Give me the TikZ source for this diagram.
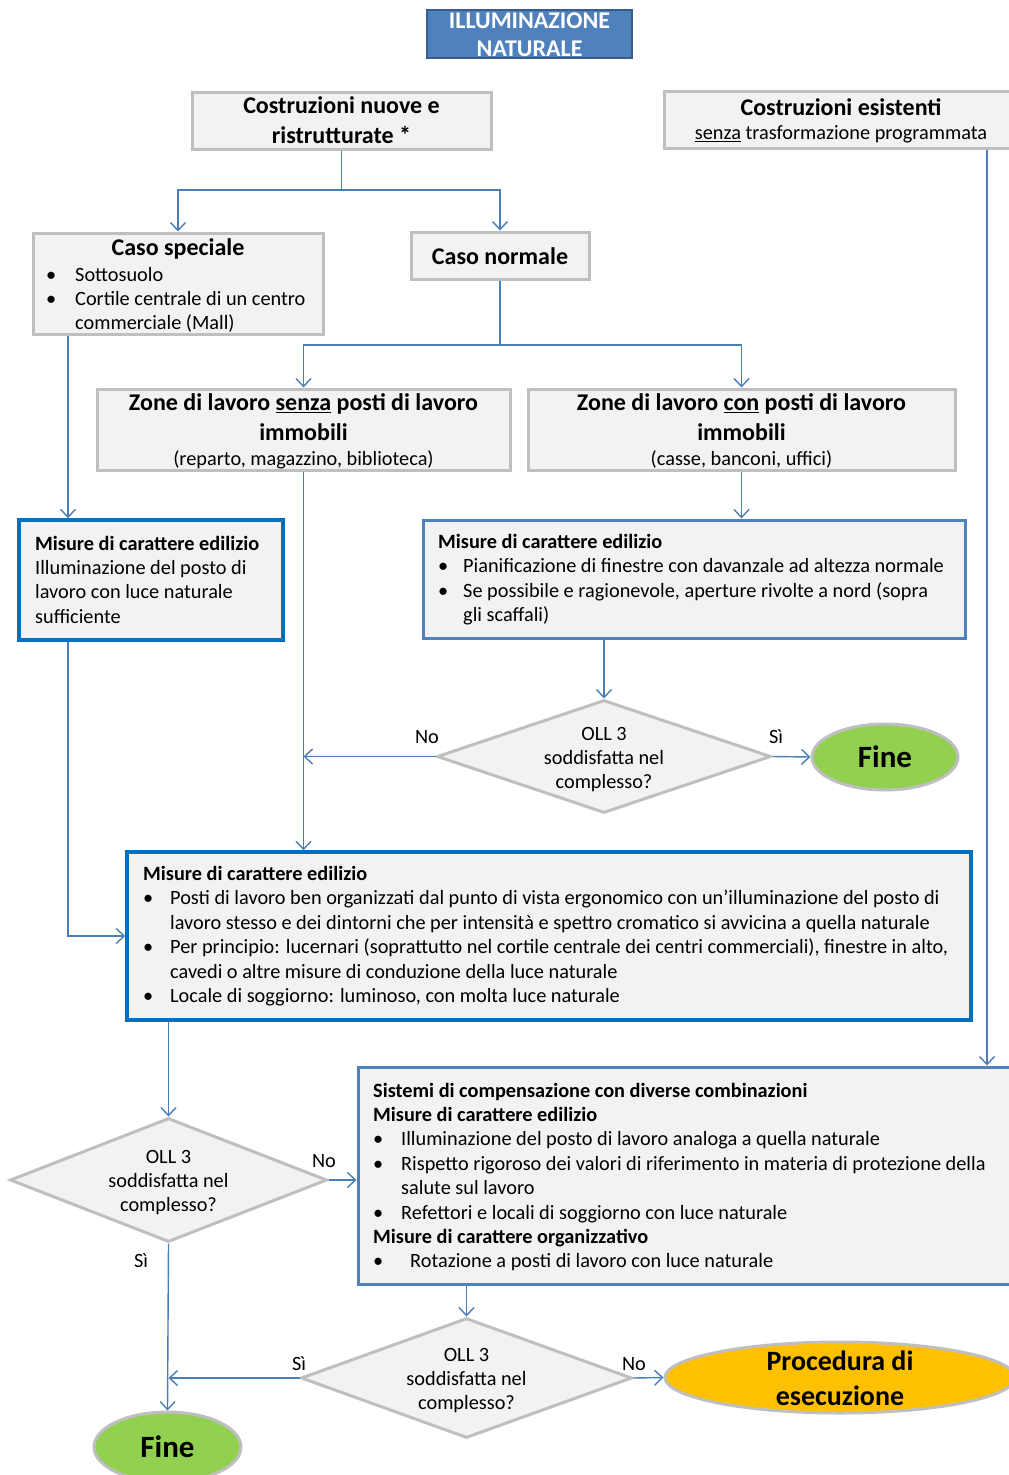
\documentclass[tikz,border=0pt]{standalone}
\usepackage{fontspec}
\setmainfont{Carlito}
\usetikzlibrary{shapes.geometric,arrows.meta}
\definecolor{boxfill}{HTML}{F2F2F2}
\definecolor{boxgray}{HTML}{BFBFBF}
\definecolor{offblue}{HTML}{4F81BD}
\definecolor{strongblue}{HTML}{0070C0}
\definecolor{connblue}{HTML}{4A7EBB}
\definecolor{titleborder}{HTML}{385D8A}
\definecolor{finegreen}{HTML}{92D050}
\definecolor{procorange}{HTML}{FFC000}
\newcommand\hdfont{\fontsize{24}{29.5}\selectfont\bfseries}
\newcommand\bdfont{\fontsize{20.3}{24.4}\selectfont}
\newcommand\bul[1]{\makebox[#1][l]{\textbullet}}
\newcommand\ind[1]{\makebox[#1]{}}
\begin{document}
\begin{tikzpicture}[x=1pt,y=-1pt,
  graybox/.style={rectangle,draw=boxgray,line width=3pt,fill=boxfill,inner sep=0},
  bluebox/.style={rectangle,draw=offblue,line width=3pt,fill=boxfill,inner sep=0},
  strongbox/.style={rectangle,draw=strongblue,line width=3.5pt,fill=boxfill,inner sep=0},
  titlebox/.style={rectangle,draw=titleborder,line width=2.5pt,fill=offblue,inner sep=0},
  decision/.style={diamond,draw=boxgray,line width=3pt,fill=boxfill,inner sep=0},
  endgreen/.style={ellipse,draw=boxgray,line width=3pt,fill=finegreen,inner sep=0,font=\fontsize{31}{37}\selectfont\bfseries},
  endorange/.style={ellipse,draw=boxgray,line width=3pt,fill=procorange,inner sep=0},
  conn/.style={draw=connblue,line width=1.4pt,-{Straight Barb[length=8pt,width=15pt]}},
  connline/.style={draw=connblue,line width=1.4pt},
  hd/.style={inner sep=0,anchor=base,font=\hdfont},
  bd/.style={inner sep=0,anchor=base,font=\bdfont},
  blk/.style={inner sep=0,anchor=base west,align=left,font=\bdfont},
]
\useasboundingbox (0,0) rectangle (1009,1475);

% boxes
\node[titlebox,minimum width=205pt,minimum height=48pt] (T) at (529.5,34) {};
\node[graybox,minimum width=299pt,minimum height=57pt] (A) at (341.5,120.5) {};
\node[graybox,minimum width=366pt,minimum height=57pt] (B) at (847,119.5) {};
\node[graybox,minimum width=290pt,minimum height=101pt] (C) at (178,283.5) {};
\node[graybox,minimum width=178pt,minimum height=47pt] (D) at (500,255.5) {};
\node[graybox,minimum width=413pt,minimum height=81pt] (E) at (303.5,429.5) {};
\node[graybox,minimum width=427pt,minimum height=81pt] (F) at (741.5,429.5) {};
\node[strongbox,minimum width=264pt,minimum height=120pt] (G) at (151,580) {};
\node[bluebox,minimum width=542pt,minimum height=118pt] (H) at (694,579) {};
\node[decision,minimum width=334pt,minimum height=113pt] (d1) at (604,756.5) {};
\node[endgreen,minimum width=146pt,minimum height=66pt] (fine1) at (885,757) {Fine};
\node[strongbox,minimum width=844pt,minimum height=168pt] (I) at (549,936) {};
\node[decision,minimum width=317pt,minimum height=124pt] (d2) at (168.5,1180) {};
\node[bluebox,minimum width=672pt,minimum height=217pt] (J) at (694,1175.5) {};
\node[decision,minimum width=331pt,minimum height=120pt] (d3) at (466.5,1378) {};
\node[endorange,minimum width=350pt,minimum height=71pt] (proc) at (840,1377.5) {};
\node[endgreen,minimum width=147pt,minimum height=70pt] (fine2) at (167.5,1447) {Fine};

% texts (base anchor = baseline of the last line)
\node[hd,align=center,text=white,font=\fontsize{24}{28}\selectfont\bfseries] (Tt) at (529.5,56) {ILLUMINAZIONE\\NATURALE};
\node[hd,align=center] (At) at (341.5,143) {Costruzioni nuove e\\ristrutturate *};
\node[hd] (Bt) at (841,115.5) {Costruzioni esistenti};
\node[bd] (Bs) at (841,139.5) {\underline{senza} trasformazione programmata};
\node[hd] (Ct) at (178,255.5) {Caso speciale};
\node[blk] (Cl) at (46,329.8) {\bul{29pt}Sottosuolo\\\bul{29pt}Cortile centrale di un centro\\\ind{29pt}commerciale (Mall)};
\node[hd] (Dt) at (500,264) {Caso normale};
\node[hd,align=center] (Et) at (303.5,440) {Zone di lavoro \underline{senza} posti di lavoro\\immobili};
\node[bd] (Es) at (303.5,465) {(reparto, magazzino, biblioteca)};
\node[hd,align=center] (Ft) at (741.5,440) {Zone di lavoro \underline{con} posti di lavoro\\immobili};
\node[bd] (Fs) at (741.5,465) {(casse, banconi, uffici)};
\node[blk] (Gt) at (35,623.2) {\textbf{Misure di carattere edilizio}\\Illuminazione del posto di\\lavoro con luce naturale\\sufficiente};
\node[blk] (Ht) at (438,621.7) {\textbf{Misure di carattere edilizio}\\\bul{25pt}Pianificazione di finestre con davanzale ad altezza normale\\\bul{25pt}Se possibile e ragionevole, aperture rivolte a nord (sopra\\\ind{25pt}gli scaffali)};
\node[bd,align=center] (d1t) at (604,788.8) {OLL 3\\soddisfatta nel\\complesso?};
\node[blk] (It) at (143,1002.5) {\textbf{Misure di carattere edilizio}\\\bul{27pt}Posti di lavoro ben organizzati dal punto di vista ergonomico con un’illuminazione del posto di\\\ind{27pt}lavoro stesso e dei dintorni che per intensità e spettro cromatico si avvicina a quella naturale\\\bul{27pt}Per principio: lucernari (soprattutto nel cortile centrale dei centri commerciali), finestre in alto,\\\ind{27pt}cavedi o altre misure di conduzione della luce naturale\\\bul{27pt}Locale di soggiorno: luminoso, con molta luce naturale};
\node[bd,align=center] (d2t) at (168.5,1211.8) {OLL 3\\soddisfatta nel\\complesso?};
\node[blk] (Jt) at (373,1267.8) {\textbf{Sistemi di compensazione con diverse combinazioni}\\\textbf{Misure di carattere edilizio}\\\bul{28pt}Illuminazione del posto di lavoro analoga a quella naturale\\\bul{28pt}Rispetto rigoroso dei valori di riferimento in materia di protezione della\\\ind{28pt}salute sul lavoro\\\bul{28pt}Refettori e locali di soggiorno con luce naturale\\\textbf{Misure di carattere organizzativo}\\\bul{37pt}Rotazione a posti di lavoro con luce naturale};
\node[bd,align=center] (d3t) at (466.5,1409.8) {OLL 3\\soddisfatta nel\\complesso?};
\node[hd,align=center,font=\fontsize{28}{35}\selectfont\bfseries] (proct) at (840,1405) {Procedura di\\esecuzione};

% labels
\node[bd] (l1) at (427,743) {No};
\node[bd] (l2) at (776,743) {Sì};
\node[bd] (l3) at (324,1167) {No};
\node[bd] (l4) at (141,1267) {Sì};
\node[bd] (l5) at (299,1370) {Sì};
\node[bd] (l6) at (634,1370) {No};

% connectors
\coordinate (jA) at (341.5,190);
\coordinate (jD) at (500,345);
\coordinate (xC) at (68,0);
\coordinate (xB) at (987,0);
\draw[connline] (A.south) -- (jA);
\draw[conn] (jA) -| (C.north);
\draw[conn] (jA) -| (D.north);
\draw[connline] (D.south) -- (jD);
\draw[conn] (jD) -| (E.north);
\draw[conn] (jD) -| (F.north);
\draw[conn] (C.south -| xC) -- (G.north -| xC);
\draw[conn] (F.south) -- (F.south |- H.north);
\draw[conn] (H.south -| d1.north) -- (d1.north);
\draw[conn] (d1.east) -- (fine1.west);
\draw[conn] (d1.west) -- (d1.west -| E.south);
\draw[conn] (E.south) -- (E.south |- I.north);
\draw[conn] (G.south -| xC) |- (I.west);
\draw[conn] (I.south -| d2.north) -- (d2.north);
\draw[conn] (d2.east) -- (d2.east -| J.west);
\draw[conn] (d2.south) -- (fine2.north);
\draw[conn] (B.south -| xB) -- (J.north -| xB);
\draw[conn] (J.south -| d3.north) -- (d3.north);
\draw[conn] (d3.west) -- (d3.west -| d2.south);
\draw[conn] (d3.east) -- (proc.west);
\end{tikzpicture}
\end{document}
